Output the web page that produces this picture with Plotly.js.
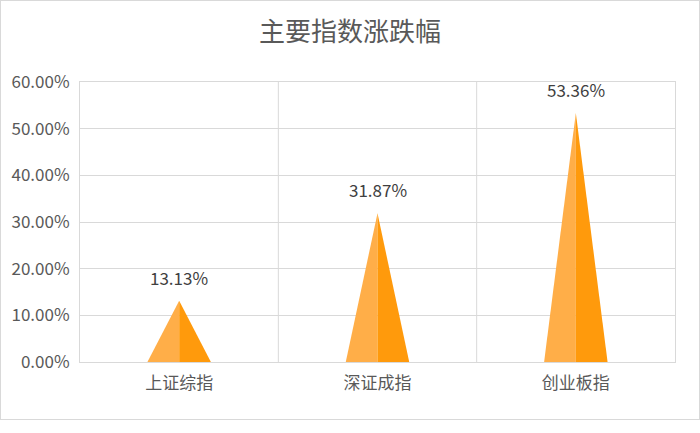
<!DOCTYPE html>
<html>
<head>
<meta charset="utf-8">
<script src="https://cdn.plot.ly/plotly-3.0.1.min.js"></script>
<style>
body { margin: 0; background: #fff; }
#chart { width: 698px; height: 418px; border: 1px solid #d9d9d9; }
</style>
</head>
<body>
<div id="chart"></div>
<script>
var categories = ['上证综指', '深证成指', '创业板指'];
var changes = [13.13, 31.87, 53.36];
var yTicks = [0, 10, 20, 30, 40, 50, 60];

var halfBase = 0.16;
var font = '"Noto Sans CJK SC", "Microsoft YaHei", sans-serif';
var grey = '#595959';

var traces = [];
for (var iii = 0; iii < categories.length; iii++)
{
    // left half of the cone, lighter
    traces.push({
        x: [iii - halfBase, iii, iii, iii - halfBase],
        y: [0, changes[iii], 0, 0],
        type: 'scatter', mode: 'lines', fill: 'toself',
        fillcolor: '#FFAE48', line: {width: 0}, hoverinfo: 'skip'
    });
    // right half, darker
    traces.push({
        x: [iii, iii, iii + halfBase, iii],
        y: [0, changes[iii], 0, 0],
        type: 'scatter', mode: 'lines', fill: 'toself',
        fillcolor: '#FF9A0C', line: {width: 0}, hoverinfo: 'skip'
    });
}

// value labels above each apex
var labels = changes.map(function(v, i) {
    return {
        x: i, y: v, xref: 'x', yref: 'y',
        text: v.toFixed(2) + '%', showarrow: false,
        yanchor: 'bottom', yshift: 9,
        font: {family: font, size: 17, color: '#404040'}
    };
});

var shapes = [];
[0.5, 1.5].forEach(function(b) {
    shapes.push({type: 'line', xref: 'x', yref: 'paper', x0: b, x1: b, y0: 0, y1: 1,
        line: {color: '#d9d9d9', width: 1}, layer: 'below'});
});

var layout = {
    width: 698, height: 418,
    margin: {l: 79, r: 24, t: 81, b: 57},
    paper_bgcolor: '#fff', plot_bgcolor: '#fff',
    showlegend: false,
    title: {text: '主要指数涨跌幅', x: 0.5, xref: 'container', xanchor: 'center',
        y: 0.925, yanchor: 'middle',
        font: {family: font, size: 26, color: grey}},
    xaxis: {
        range: [-0.5, 2.5], tickvals: [0, 1, 2], ticktext: categories,
        showgrid: false, zeroline: false, ticks: '',
        showline: true, mirror: true, linecolor: '#d9d9d9', linewidth: 1,
        ticklabelstandoff: 6,
        tickfont: {family: font, size: 17, color: grey}, fixedrange: true
    },
    yaxis: {
        range: [0, 60], tickvals: yTicks,
        ticktext: yTicks.map(function(v) { return v.toFixed(2) + '%'; }),
        showgrid: true, gridcolor: '#d9d9d9', gridwidth: 1, zeroline: false,
        showline: true, mirror: true, linecolor: '#d9d9d9', linewidth: 1,
        ticks: '', ticklabelstandoff: 6,
        tickfont: {family: font, size: 17, color: grey}, fixedrange: true
    },
    annotations: labels,
    shapes: shapes
};

Plotly.newPlot('chart', traces, layout, {displayModeBar: false, staticPlot: true});
</script>
</body>
</html>
